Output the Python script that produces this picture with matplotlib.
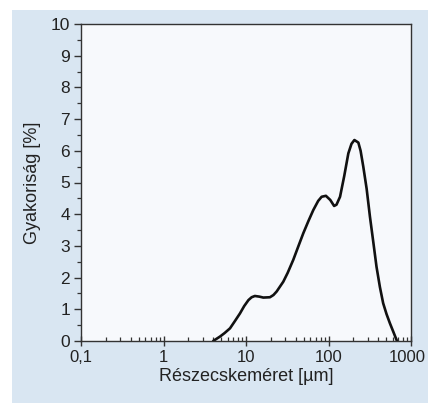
import matplotlib
matplotlib.use("Agg")
import matplotlib.pyplot as plt
from matplotlib.patches import Rectangle
from matplotlib.transforms import ScaledTranslation
from matplotlib.ticker import FixedLocator, FixedFormatter, LogLocator, NullFormatter, MultipleLocator

plt.rcParams['font.family'] = ['Liberation Sans', 'DejaVu Sans']

# particle size (µm) and frequency (%)
size_um = [4.0, 4.84, 5.5, 6.4, 7.3, 8.45, 9.5, 10.7, 11.7, 12.8, 14.5, 16.2, 19.5,
           21.5, 23.5, 28.3, 32, 37.4, 43, 49.5, 57, 65.4, 75, 82.6, 93, 105, 117,
           125, 138, 155, 174, 190, 206, 230, 245, 264, 290, 318, 350, 382, 420,
           460, 505, 555, 615, 676]
freq_pct = [0.0, 0.14, 0.25, 0.40, 0.62, 0.87, 1.10, 1.29, 1.38, 1.42, 1.40, 1.37, 1.38,
            1.45, 1.56, 1.87, 2.15, 2.56, 2.98, 3.40, 3.78, 4.13, 4.42, 4.55, 4.58, 4.45, 4.26,
            4.30, 4.55, 5.20, 5.92, 6.22, 6.34, 6.26, 6.00, 5.50, 4.80, 3.92, 3.10, 2.34, 1.70,
            1.19, 0.85, 0.56, 0.27, 0.0]

x_ticks = [0.1, 1, 10, 100, 1000]
x_labels = ["0,1", "1", "10", "100", "1000"]
y_ticks = list(range(0, 11))

W, H = 428, 403
fig = plt.figure(figsize=(W / 100, H / 100), dpi=100, facecolor='white')
bg = Rectangle((12 / W, 0), 1 - 12 / W, (H - 10) / H, transform=fig.transFigure,
               facecolor='#d9e6f2', edgecolor='none', zorder=-10)
fig.patches.append(bg)

ax = fig.add_axes([81 / W, (H - 341) / H, (411 - 81) / W, (341 - 24) / H])
ax.set_zorder(1)
ax.set_facecolor('#f7f9fc')
ax.plot(size_um, freq_pct, color='#111111', lw=1.9, solid_joinstyle='round',
        solid_capstyle='round')

ax.set_xscale('log')
ax.set_xlim(0.1, 1000)
ax.set_ylim(0, 10)
ax.xaxis.set_major_locator(FixedLocator(x_ticks))
ax.xaxis.set_major_formatter(FixedFormatter(x_labels))
ax.xaxis.set_minor_locator(LogLocator(base=10, subs=range(2, 10)))
ax.xaxis.set_minor_formatter(NullFormatter())
ax.yaxis.set_major_locator(FixedLocator(y_ticks))
ax.yaxis.set_minor_locator(MultipleLocator(0.5))

for s in ax.spines.values():
    s.set_color('#333333')
    s.set_linewidth(1.0)

ax.tick_params(axis='x', which='major', direction='inout', length=7, width=1.0,
               color='#333333', pad=3, labelcolor='#222222', labelsize=12)
ax.tick_params(axis='x', which='minor', direction='in', length=3, width=0.9, color='#333333')
ax.tick_params(axis='y', which='major', direction='out', length=5, width=1.0,
               color='#333333', pad=3, labelcolor='#222222', labelsize=12.5)
ax.tick_params(axis='y', which='minor', direction='out', length=3, width=0.9, color='#333333')

# nudge the last x tick label slightly left so it stays inside the figure
last = ax.get_xticklabels()[-1]
last.set_transform(last.get_transform() + ScaledTranslation(-4 / 100, 0, fig.dpi_scale_trans))

ax.set_xlabel("Részecskeméret [µm]", fontsize=13, color='#222222', labelpad=2)
ax.set_ylabel("Gyakoriság [%]", fontsize=13, color='#222222', labelpad=7)

fig.savefig("out.png", dpi=100, facecolor=fig.get_facecolor())
